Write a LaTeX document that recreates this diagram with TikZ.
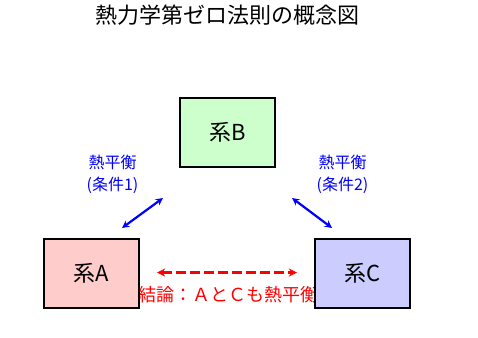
\documentclass[tikz,border=0pt]{standalone}
\usepackage{fontspec}
\setmainfont{Noto Sans CJK JP}
\usepackage{tikz}
\usetikzlibrary{arrows, positioning}

\definecolor{boxA}{HTML}{FFCCCC}
\definecolor{boxB}{HTML}{CCFFCC}
\definecolor{boxC}{HTML}{CCCCFF}

\begin{document}
\begin{tikzpicture}[x=1pt, y=-1pt, >=stealth,
    sysbox/.style={rectangle, draw=black, line width=2pt, minimum width=95pt, minimum height=69pt, font=\fontsize{22}{26}\selectfont},
    cond/.style={text=blue, align=center, font=\fontsize{16}{22}\selectfont},
    link/.style={<->, draw=blue, line width=2.2pt},
    result/.style={<->, draw=red, line width=2.6pt, dash pattern=on 10pt off 4pt}]

    \fill[white] (0,0) rectangle (478,337);
    \useasboundingbox (0,0) rectangle (478,337);

    \node [font=\fontsize{22}{26}\selectfont] (title) at (227,15) {熱力学第ゼロ法則の概念図};

    % conclusion text sits under the boxes
    \node [text=red, font=\fontsize{18}{22}\selectfont] (concl) at (228,295) {結論：ＡとＣも熱平衡};

    \node [sysbox, fill=boxB] (sysB) at (227.5,132.5) {系B};
    \node [sysbox, fill=boxA] (sysA) at (91.5,273.5) {系A};
    \node [sysbox, fill=boxC] (sysC) at (362.5,273.5) {系C};

    \node [cond] (condAB) at (112.5,174) {熱平衡\\(条件1)};
    \node [cond] (condBC) at (342.5,174) {熱平衡\\(条件2)};

    \coordinate (ab1) at (122,228);
    \coordinate (ab2) at (163,198);
    \coordinate (bc1) at (292,198);
    \coordinate (bc2) at (332,228);
    \coordinate (ac1) at (157,272.5);
    \coordinate (ac2) at (297,272.5);

    \draw [link] (ab1) -- (ab2);
    \draw [link] (bc1) -- (bc2);
    \draw [result] (ac1) -- (ac2);
\end{tikzpicture}
\end{document}
